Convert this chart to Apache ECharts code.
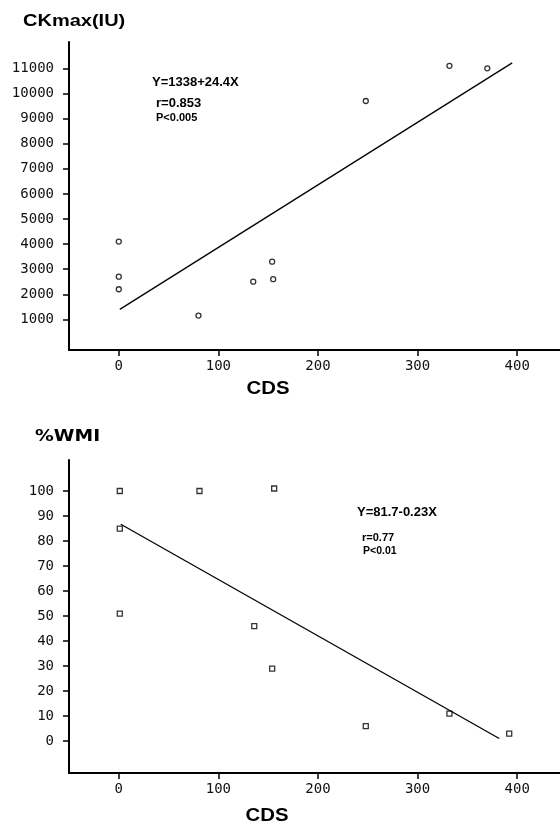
<!DOCTYPE html>
<html>
<head>
<meta charset="utf-8">
<script src="https://cdn.jsdelivr.net/npm/echarts@6/dist/echarts.min.js"></script>
<style>html,body{margin:0;padding:0;background:#fff}#c{width:560px;height:827px}</style>
</head>
<body>
<div id="c"></div>
<script>
// ---- data ----
const xTicks = [0, 100, 200, 300, 400];
const ckTicks = [1000, 2000, 3000, 4000, 5000, 6000, 7000, 8000, 9000, 10000, 11000];
const wmiTicks = [0, 10, 20, 30, 40, 50, 60, 70, 80, 90, 100];

const ckCds = [0, 0, 0, 80, 135, 154, 155, 248, 332, 370];
const ckMax = [4100, 2700, 2200, 1150, 2500, 3300, 2600, 9700, 11100, 11000];
const ckFitCds = [1, 395];
const ckFitVal = [1400, 11220];

const wmiCds = [1, 1, 1, 81, 156, 136, 154, 248, 332, 392];
const wmiVal = [100, 85, 51, 100, 101, 46, 29, 6, 11, 3];
const wmiFitCds = [2, 382];
const wmiFitVal = [86.7, 1.1];

const ckTitle = 'CKmax(IU)';
const wmiTitle = '%WMI';
const xName = 'CDS';
const ckEq = ['Y=1338+24.4X', 'r=0.853', 'P<0.005'];
const wmiEq = ['Y=81.7-0.23X', 'r=0.77', 'P<0.01'];

// ---- chart ----
const pairs = (a, b) => a.map((v, i) => [v, b[i]]);
const mono = '"DejaVu Sans Mono", monospace';
const sans = '"Liberation Sans", Arial, sans-serif';
const plain = v => String(v);

function xAxisDef(gi) {
  return {
    type: 'value', gridIndex: gi, min: -50, max: 443,
    axisLine: {show: true, onZero: false, lineStyle: {color: '#000', width: 2}},
    axisTick: {show: true, customValues: xTicks, length: 6, inside: false, lineStyle: {color: '#000', width: 1.5}},
    axisLabel: {customValues: xTicks, formatter: plain, color: '#111', fontFamily: mono, fontSize: 14, margin: 9},
    splitLine: {show: false}
  };
}
function yAxisDef(gi, min, max, ticks) {
  return {
    type: 'value', gridIndex: gi, min: min, max: max,
    axisLine: {show: true, onZero: false, lineStyle: {color: '#000', width: 2}},
    axisTick: {show: true, customValues: ticks, length: 6, lineStyle: {color: '#000', width: 1.5}},
    axisLabel: {customValues: ticks, formatter: plain, color: '#111', fontFamily: mono, fontSize: 14, margin: 15},
    splitLine: {show: false}
  };
}
function txt(text, x, y, size, opts) {
  opts = opts || {};
  return {
    type: 'text', x: x, y: y, scaleX: opts.scaleX || 1, z: 100,
    style: {
      text: text, x: 0, y: 0, fill: '#000',
      font: 'bold ' + size + 'px ' + (opts.family || sans),
      textAlign: opts.align || 'left', textVerticalAlign: opts.valign || 'middle'
    }
  };
}

const chart = echarts.init(document.getElementById('c'), null, {renderer: 'canvas'});
chart.setOption({
  animation: false,
  backgroundColor: '#fff',
  grid: [
    {left: 69, top: 42, width: 491, height: 308},
    {left: 69, top: 460, width: 491, height: 313}
  ],
  xAxis: [xAxisDef(0), xAxisDef(1)],
  yAxis: [
    yAxisDef(0, -220, 12050, ckTicks),
    yAxisDef(1, -12.7, 112.4, wmiTicks)
  ],
  series: [
    {
      type: 'scatter', xAxisIndex: 0, yAxisIndex: 0, data: pairs(ckCds, ckMax),
      symbol: 'circle', symbolSize: 5,
      itemStyle: {color: '#fff', borderColor: '#000', borderWidth: 1.3}
    },
    {
      type: 'line', xAxisIndex: 0, yAxisIndex: 0, data: pairs(ckFitCds, ckFitVal),
      symbol: 'none', lineStyle: {color: '#000', width: 1.3}
    },
    {
      type: 'scatter', xAxisIndex: 1, yAxisIndex: 1, data: pairs(wmiCds, wmiVal),
      symbol: 'rect', symbolSize: 5,
      itemStyle: {color: '#fff', borderColor: '#000', borderWidth: 1.3}
    },
    {
      type: 'line', xAxisIndex: 1, yAxisIndex: 1, data: pairs(wmiFitCds, wmiFitVal),
      symbol: 'none', lineStyle: {color: '#000', width: 1.3}
    }
  ],
  graphic: [
    txt(ckTitle, 23, 22, 16, {scaleX: 1.25}),
    txt(wmiTitle, 35, 430, 15, {scaleX: 1.25, family: '"DejaVu Sans", sans-serif', valign: 'top'}),
    txt(xName, 268, 389, 18, {align: 'center', scaleX: 1.13}),
    txt(xName, 267, 816, 18, {align: 'center', scaleX: 1.13}),
    txt(ckEq[0], 152, 82, 13),
    txt(ckEq[1], 156, 103, 13),
    txt(ckEq[2], 156, 117.5, 11),
    txt(wmiEq[0], 357, 512, 13),
    txt(wmiEq[1], 362, 538, 11),
    txt(wmiEq[2], 363, 551, 10.5)
  ]
});
</script>
</body>
</html>
